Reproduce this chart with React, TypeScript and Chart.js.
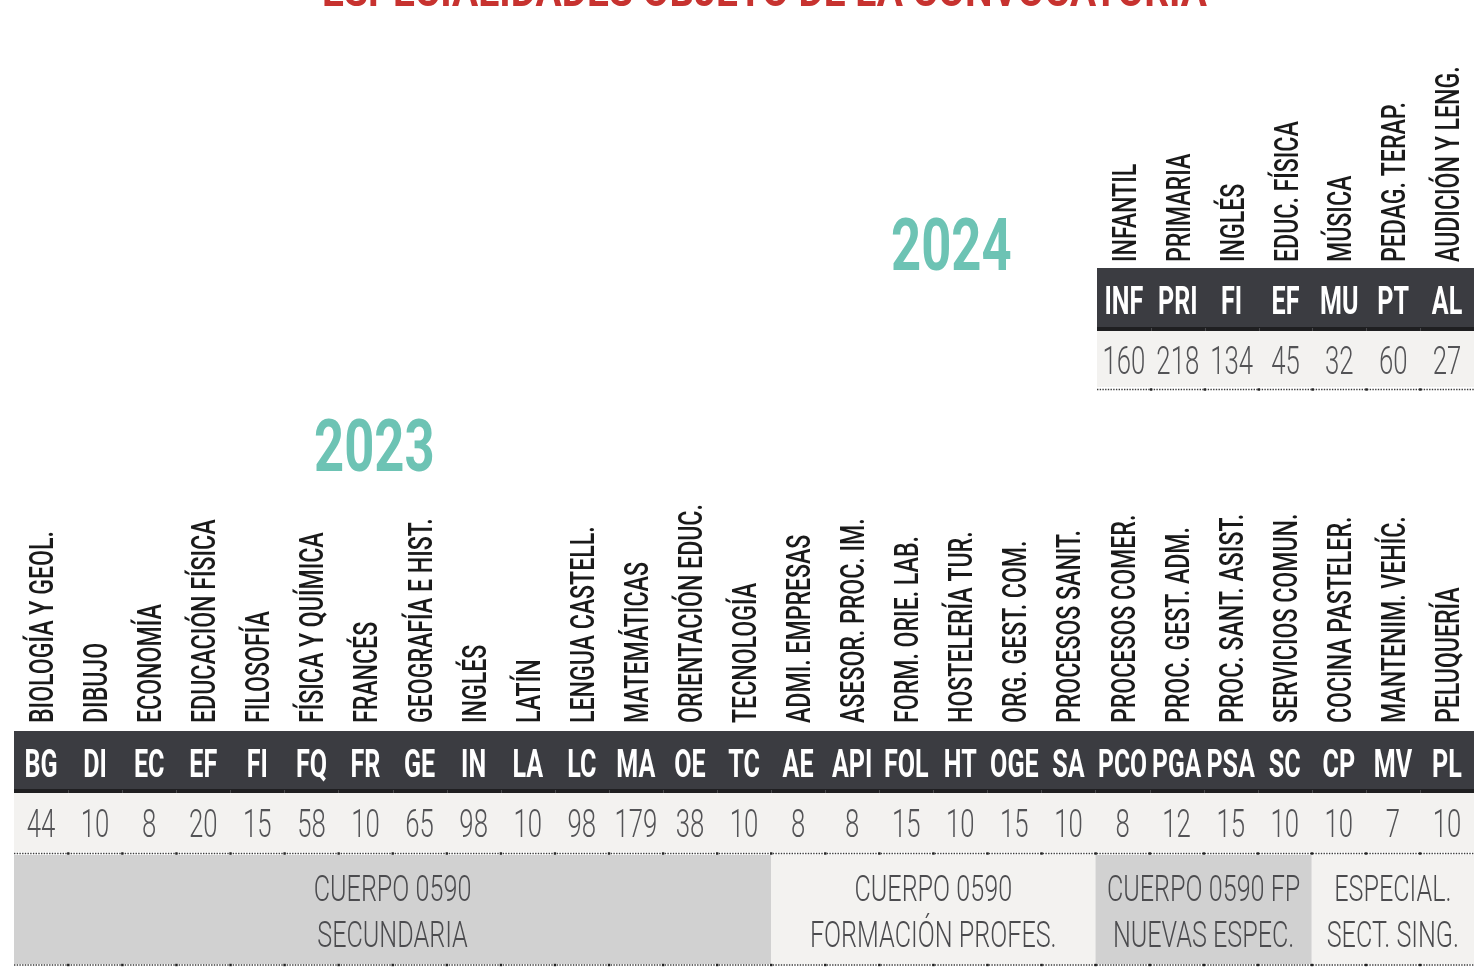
import React, { useEffect, useRef } from "react";
import { Chart, registerables } from "chart.js";
Chart.register(...registerables);

const TITLE = "ESPECIALIDADES OBJETO DE LA CONVOCATORIA";

const codes2023 = ["BG","DI","EC","EF","FI","FQ","FR","GE","IN","LA","LC","MA","OE","TC","AE","API","FOL","HT","OGE","SA","PCO","PGA","PSA","SC","CP","MV","PL"];
const names2023 = ["BIOLOGÍA Y GEOL.","DIBUJO","ECONOMÍA","EDUCACIÓN FÍSICA","FILOSOFÍA","FÍSICA Y QUÍMICA","FRANCÉS","GEOGRAFÍA E HIST.","INGLÉS","LATÍN","LENGUA CASTELL.","MATEMÁTICAS","ORIENTACIÓN EDUC.","TECNOLOGÍA","ADMI. EMPRESAS","ASESOR. PROC. IM.","FORM. ORIE. LAB.","HOSTELERÍA TUR.","ORG. GEST. COM.","PROCESOS SANIT.","PROCESOS COMER.","PROC. GEST. ADM.","PROC. SANT. ASIST.","SERVICIOS COMUN.","COCINA PASTELER.","MANTENIM. VEHÍC.","PELUQUERÍA"];
const values2023 = [44,10,8,20,15,58,10,65,98,10,98,179,38,10,8,8,15,10,15,10,8,12,15,10,10,7,10];
const groupLines2023 = [["CUERPO 0590","SECUNDARIA"],["CUERPO 0590","FORMACIÓN PROFES."],["CUERPO 0590 FP","NUEVAS ESPEC."],["ESPECIAL.","SECT. SING."]];
const groupSizes2023 = [14,6,4,3];

const codes2024 = ["INF","PRI","FI","EF","MU","PT","AL"];
const names2024 = ["INFANTIL","PRIMARIA","INGLÉS","EDUC. FÍSICA","MÚSICA","PEDAG. TERAP.","AUDICIÓN Y LENG."];
const values2024 = [160,218,134,45,32,60,27];

const W = 1474;
const H = 967;
const FONT = "Roboto, 'Open Sans', 'DejaVu Sans', sans-serif";
const C_DARK = "#3b3c41";
const C_STRIPE = "#1f1f21";
const C_LIGHT = "#f3f2f0";
const C_GRAY = "#d1d1d1";
const C_TEAL = "#6dc3b4";
const C_RED = "#c7322f";
const groupShade = [C_GRAY, C_LIGHT, C_GRAY, C_LIGHT];

function drawText(ctx: CanvasRenderingContext2D, s: string, x: number, y: number, font: string, color: string, sx: number, align: CanvasTextAlign = "center", maxW?: number) {
  ctx.save();
  ctx.font = font;
  ctx.fillStyle = color;
  ctx.textBaseline = "alphabetic";
  ctx.textAlign = align;
  let k = sx;
  const w = ctx.measureText(s).width * sx;
  if (maxW && w > maxW) k = (sx * maxW) / w;
  ctx.translate(x, y);
  ctx.scale(k, 1);
  ctx.fillText(s, 0, 0);
  ctx.restore();
}

function drawVertical(ctx: CanvasRenderingContext2D, s: string, cx: number, bottom: number, font: string, color: string, sx: number, cap: number) {
  ctx.save();
  ctx.font = font;
  ctx.fillStyle = color;
  ctx.textBaseline = "alphabetic";
  ctx.textAlign = "left";
  ctx.translate(cx + cap / 2, bottom);
  ctx.rotate(-Math.PI / 2);
  ctx.scale(sx, 1);
  ctx.fillText(s, 0, 0);
  ctx.restore();
}

function dotted(ctx: CanvasRenderingContext2D, x0: number, x1: number, y: number, bounds: number[]) {
  ctx.save();
  ctx.strokeStyle = "#3c3c3c";
  ctx.lineWidth = 1.6;
  ctx.setLineDash([1.4, 1.3]);
  ctx.beginPath();
  ctx.moveTo(x0, y);
  ctx.lineTo(x1, y);
  ctx.stroke();
  ctx.fillStyle = "#222";
  bounds.forEach((b) => ctx.fillRect(b - 1, y - 1.2, 2.4, 2.4));
  ctx.restore();
}

const tablePlugin = {
  id: "table",
  afterDraw(chart: any, _args: any, o: any) {
    const ctx: CanvasRenderingContext2D = chart.ctx;
    const x = chart.scales.x;
    const n = o.codes.length;
    const cw = (x.right - x.left) / n;
    const left = (i: number) => x.getPixelForValue(i) - cw / 2;
    const x0 = left(0);
    const x1 = left(n - 1) + cw;
    ctx.save();
    // header
    ctx.fillStyle = C_DARK;
    ctx.fillRect(x0, o.headTop, x1 - x0, o.stripeTop - o.headTop);
    ctx.fillStyle = C_STRIPE;
    ctx.fillRect(x0, o.stripeTop, x1 - x0, o.rowTop - o.stripeTop);
    // value row
    ctx.fillStyle = C_LIGHT;
    ctx.fillRect(x0, o.rowTop, x1 - x0, o.rowBottom - o.rowTop);
    // separators inside dark stripe
    ctx.fillStyle = "#4a4a4d";
    const bounds: number[] = [];
    for (let i = 1; i < n; i++) {
      const b = left(i);
      bounds.push(b);
      ctx.fillRect(Math.round(b), o.stripeTop + 1, 1, o.rowTop - o.stripeTop - 1);
    }
    // groups
    if (o.groups) {
      let start = 0;
      o.groups.sizes.forEach((sz: number, g: number) => {
        const gl = left(start);
        const gr = left(start + sz - 1) + cw;
        ctx.fillStyle = groupShade[g];
        ctx.fillRect(gl, o.groups.top, gr - gl, o.groups.bottom - o.groups.top);
        const gc = (gl + gr) / 2;
        o.groups.lines[g].forEach((ln: string, j: number) => {
          drawText(ctx, ln, gc, o.groups.base[j], `300 37px ${FONT}`, "#4b4b4e", 0.68);
        });
        start += sz;
      });
      dotted(ctx, x0, x1, o.groups.bottom + 1, bounds);
    }
    dotted(ctx, x0, x1, o.dotY, bounds);
    for (let i = 0; i < n; i++) {
      const cx = x.getPixelForValue(i);
      drawVertical(ctx, o.names[i], cx, o.labelBottom, `500 34px ${FONT}`, "#1a1a1a", 0.68, 24);
      drawText(ctx, o.codes[i], cx, o.headTop + 46, `bold 38px ${FONT}`, "#ffffff", 0.66, "center", cw - 5);
      drawText(ctx, String(o.values[i]), cx, o.headTop + 106, `300 39px ${FONT}`, "#535356", 0.66);
    }
    if (o.year) drawText(ctx, o.year.text, o.year.x, o.year.y, `bold 73px ${FONT}`, C_TEAL, 0.72, "left");
    if (o.title) {
      ctx.font = `bold 44px ${FONT}`;
      const tw = ctx.measureText(TITLE).width;
      drawText(ctx, TITLE, 322, 6, `bold 44px ${FONT}`, C_RED, 885 / tw, "left");
    }
    ctx.restore();
  },
};

function makeConfig(codes: string[], values: number[], padLeft: number, table: any): any {
  return {
    type: "bar",
    data: {
      labels: codes,
      datasets: [{ data: values, backgroundColor: "rgba(0,0,0,0)", borderWidth: 0 }],
    },
    options: {
      responsive: false,
      animation: false,
      devicePixelRatio: 1,
      events: [],
      layout: { padding: { left: padLeft, right: 0, top: 0, bottom: 0 } },
      scales: { x: { display: false }, y: { display: false } },
      plugins: { legend: { display: false }, tooltip: { enabled: false }, table },
    },
    plugins: [tablePlugin],
  };
}

export default function App() {
  const ref23 = useRef<HTMLCanvasElement>(null);
  const ref24 = useRef<HTMLCanvasElement>(null);
  useEffect(() => {
    const c23 = new Chart(
      ref23.current!,
      makeConfig(codes2023, values2023, 14, {
        codes: codes2023,
        names: names2023,
        values: values2023,
        headTop: 731,
        stripeTop: 789,
        rowTop: 793,
        rowBottom: 852,
        dotY: 853.5,
        labelBottom: 723,
        groups: { sizes: groupSizes2023, lines: groupLines2023, top: 855, bottom: 964, base: [901, 947] },
        year: { text: "2023", x: 314, y: 471 },
        title: true,
      })
    );
    const c24 = new Chart(
      ref24.current!,
      makeConfig(codes2024, values2024, 1097, {
        codes: codes2024,
        names: names2024,
        values: values2024,
        headTop: 268,
        stripeTop: 327,
        rowTop: 331,
        rowBottom: 387,
        dotY: 389.5,
        labelBottom: 262,
        year: { text: "2024", x: 891, y: 270 },
      })
    );
    return () => {
      c23.destroy();
      c24.destroy();
    };
  }, []);
  const cs: React.CSSProperties = { position: "absolute", left: 0, top: 0, width: W, height: H };
  return (
    <div style={{ position: "absolute", left: 0, top: 0, width: W, height: H, background: "#fff", overflow: "hidden" }}>
      <canvas ref={ref23} width={W} height={H} style={cs} />
      <canvas ref={ref24} width={W} height={H} style={cs} />
    </div>
  );
}
